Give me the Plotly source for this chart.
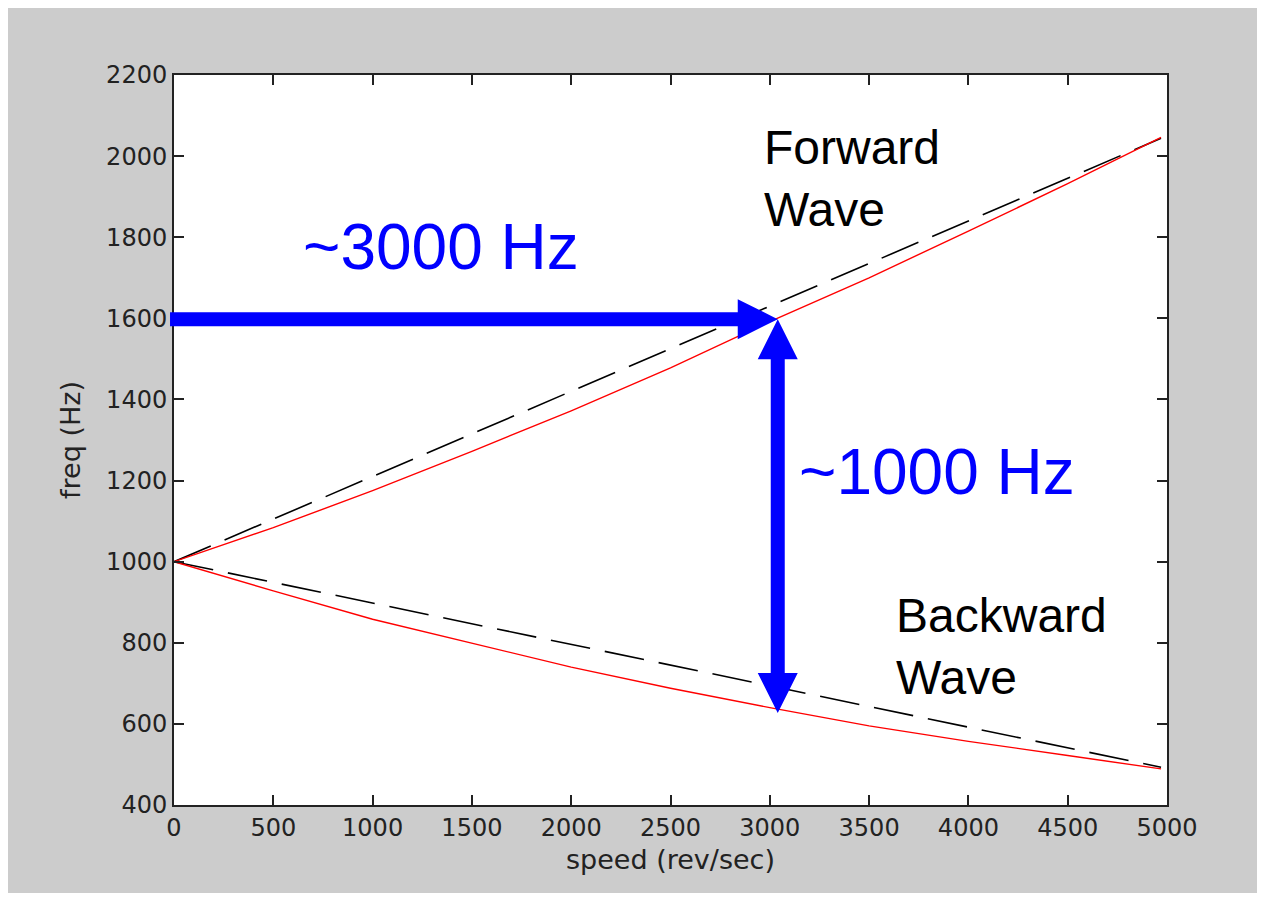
import plotly.graph_objects as go

# ---- data ----
speed = [0, 500, 1000, 1500, 2000, 2500, 3000, 3500, 4000, 4500, 4970]
fwd_model = [1000, 1105, 1210, 1315, 1420, 1525, 1630, 1735, 1840, 1945, 2044]
fwd_meas = [1000, 1084, 1175, 1272, 1372, 1478, 1592, 1700, 1815, 1932, 2046]
bwd_model = [1000, 949, 898, 847, 796, 745, 694, 643, 592, 541, 493]
bwd_meas = [1000, 928, 858, 799, 740, 688, 640, 595, 557, 522, 489]

x_ticks = list(range(0, 5001, 500))
y_ticks = list(range(400, 2201, 200))
X_RANGE = [0, 5000]
Y_RANGE = [400, 2200]

# arrow annotation values
arrow_speed = 3040
arrow_top = 1598
arrow_bottom = 627
arrow_start = -20

# ---- figure ----
fig = go.Figure()
dash_style = "40px,15px"
fig.add_trace(go.Scatter(x=speed, y=fwd_model, mode="lines",
                         line=dict(color="black", width=1.6, dash=dash_style), showlegend=False))
fig.add_trace(go.Scatter(x=speed, y=bwd_model, mode="lines",
                         line=dict(color="black", width=1.6, dash=dash_style), showlegend=False))
fig.add_trace(go.Scatter(x=speed, y=fwd_meas, mode="lines",
                         line=dict(color="red", width=1.4), showlegend=False))
fig.add_trace(go.Scatter(x=speed, y=bwd_meas, mode="lines",
                         line=dict(color="red", width=1.4), showlegend=False))

W, H = 1252, 885
ML, MT = 166, 67
PW, PH = 993, 730
MR = W - ML - PW
MB = H - MT - PH


def px_(s):
    return (s - X_RANGE[0]) / (X_RANGE[1] - X_RANGE[0])


def py_(f):
    return (f - Y_RANGE[0]) / (Y_RANGE[1] - Y_RANGE[0])


dx = 1.0 / PW  # one pixel in paper x
dy = 1.0 / PH  # one pixel in paper y
head_len = 40
head_half = 20
shaft_half = 7

blue = "#0000ff"
shapes = []

# horizontal arrow
ax0 = px_(arrow_start)
axt = px_(arrow_speed)
ay = py_(arrow_top)
path_h = (f"M {ax0},{ay - shaft_half*dy} L {axt - head_len*dx},{ay - shaft_half*dy} "
          f"L {axt - head_len*dx},{ay - head_half*dy} L {axt},{ay} "
          f"L {axt - head_len*dx},{ay + head_half*dy} L {axt - head_len*dx},{ay + shaft_half*dy} "
          f"L {ax0},{ay + shaft_half*dy} Z")
shapes.append(dict(type="path", xref="paper", yref="paper", path=path_h,
                   fillcolor=blue, line=dict(width=0)))

# vertical double arrow
vx = px_(arrow_speed)
vt = py_(arrow_top)
vb = py_(arrow_bottom)
path_v = (f"M {vx},{vt} L {vx + head_half*dx},{vt - head_len*dy} L {vx + shaft_half*dx},{vt - head_len*dy} "
          f"L {vx + shaft_half*dx},{vb + head_len*dy} L {vx + head_half*dx},{vb + head_len*dy} "
          f"L {vx},{vb} L {vx - head_half*dx},{vb + head_len*dy} L {vx - shaft_half*dx},{vb + head_len*dy} "
          f"L {vx - shaft_half*dx},{vt - head_len*dy} L {vx - head_half*dx},{vt - head_len*dy} Z")
shapes.append(dict(type="path", xref="paper", yref="paper", path=path_v,
                   fillcolor=blue, line=dict(width=0)))

big_font = "Liberation Sans, Arial, sans-serif"
annotations = [
    dict(x=640, y=1776, xref="x", yref="y", text="~3000 Hz", showarrow=False,
         xanchor="left", yanchor="middle", font=dict(family=big_font, size=64, color=blue)),
    dict(x=3135, y=1222, xref="x", yref="y", text="~1000 Hz", showarrow=False,
         xanchor="left", yanchor="middle", font=dict(family=big_font, size=64, color=blue)),
    dict(x=2960, y=1946, xref="x", yref="y", text="Forward<br>Wave", showarrow=False,
         xanchor="left", yanchor="middle", align="left",
         font=dict(family=big_font, size=48, color="black")),
    dict(x=3625, y=792, xref="x", yref="y", text="Backward<br>Wave", showarrow=False,
         xanchor="left", yanchor="middle", align="left",
         font=dict(family=big_font, size=48, color="black")),
]

tick_font = dict(family="DejaVu Sans", size=24, color="#222222")
title_font = dict(family="DejaVu Sans", size=27, color="#222222")
axis_common = dict(showline=True, linecolor="#222222", linewidth=2, mirror="ticks",
                   ticks="inside", ticklen=10, tickwidth=1.5, tickcolor="#222222",
                   showgrid=False, zeroline=False, tickfont=tick_font)

fig.update_layout(
    width=W, height=H,
    margin=dict(l=ML, r=MR, t=MT, b=MB),
    paper_bgcolor="#cccccc", plot_bgcolor="white",
    xaxis=dict(range=X_RANGE, tickvals=x_ticks, ticktext=[str(v) for v in x_ticks],
               title=dict(text="speed (rev/sec)", font=title_font, standoff=9), **axis_common),
    yaxis=dict(range=Y_RANGE, tickvals=y_ticks, ticktext=[str(v) for v in y_ticks],
               title=dict(text="freq (Hz)", font=title_font, standoff=18), **axis_common),
    shapes=shapes,
    annotations=annotations,
)

fig.write_html("out.html")
